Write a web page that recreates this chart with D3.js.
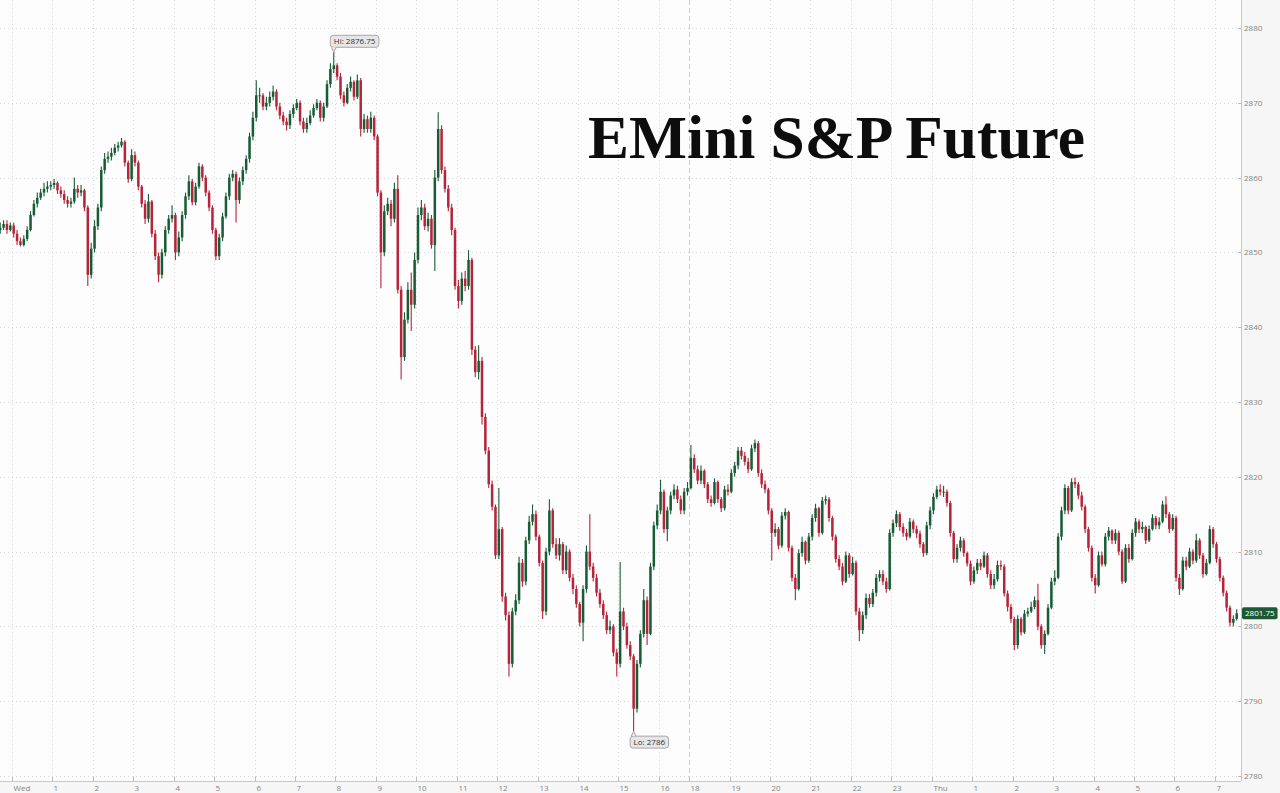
<!doctype html>
<html lang="en">
<head>
	<meta charset="UTF-8">
	<title>EMini S&amp;P Future</title>
	<script src="https://d3js.org/d3.v7.min.js"></script>
	<style>
		body { margin: 0; padding: 0; background: #f6f6f6; }
		svg { display: block; }
		.lbl { font-family: "Open Sans", Roboto, sans-serif; font-size: 8px; fill: #858585; }
		.grid { stroke: #d8d8d8; stroke-width: 1; stroke-dasharray: 1,3; }
	</style>
</head>
<body>
<svg id="chart"></svg>
<script>
// 5-minute bars, Tue 23:40 -> Thu 07:30 (ET)
const firstOpen = 2853.0;
const closes = [
	2853.3,2853.8,2853.0,2853.6,2852.5,2851.5,2851.0,2851.8,2853.0,2855.0,
	2856.5,2857.3,2858.0,2858.5,2858.8,2859.0,2859.3,2858.3,2857.8,2857.0,
	2856.5,2856.8,2858.5,2858.0,2858.3,2856.0,2847.0,2850.5,2853.5,2856.0,
	2861.0,2862.5,2862.8,2863.3,2864.0,2864.3,2864.8,2862.0,2859.8,2863.0,
	2862.0,2858.8,2856.5,2854.5,2856.8,2852.5,2849.5,2847.0,2850.0,2853.0,
	2854.5,2855.0,2850.0,2852.0,2855.0,2857.5,2859.5,2856.7,2858.8,2861.5,
	2860.0,2858.0,2856.0,2853.0,2849.5,2852.0,2854.8,2857.5,2860.0,2860.5,
	2857.0,2859.5,2861.0,2862.5,2865.5,2868.0,2871.0,2871.0,2869.5,2870.0,
	2870.8,2871.5,2869.5,2868.3,2867.5,2867.0,2868.5,2869.3,2870.0,2867.5,
	2866.5,2867.3,2868.3,2869.3,2870.0,2868.0,2869.5,2872.5,2874.5,2875.0,
	2873.5,2871.0,2870.0,2872.0,2872.8,2870.8,2873.0,2866.5,2867.8,2866.5,
	2868.0,2865.5,2858.0,2850.0,2855.5,2856.5,2854.5,2858.5,2845.0,2836.0,
	2841.0,2845.0,2843.0,2849.0,2855.0,2856.0,2853.5,2854.5,2851.0,2860.0,
	2866.5,2861.0,2858.5,2856.0,2853.0,2845.5,2843.5,2846.5,2845.5,2849.0,
	2837.0,2834.0,2835.5,2828.0,2823.5,2819.0,2816.0,2809.5,2813.0,2804.0,
	2801.5,2795.0,2802.0,2803.5,2808.5,2806.0,2811.5,2814.0,2815.0,2812.0,
	2808.5,2802.0,2810.0,2815.5,2811.0,2809.5,2811.0,2807.5,2810.0,2806.5,
	2805.0,2803.0,2800.5,2805.0,2810.0,2808.0,2806.5,2804.5,2803.0,2801.5,
	2799.5,2800.0,2796.5,2795.0,2802.0,2800.0,2797.5,2796.0,2789.0,2795.0,
	2799.0,2803.5,2799.0,2808.0,2813.5,2815.5,2818.0,2813.0,2815.5,2817.5,
	2818.3,2817.0,2815.5,2818.0,2818.5,2822.5,2821.0,2819.5,2820.8,2819.0,
	2817.0,2816.5,2819.3,2817.0,2815.8,2818.3,2818.0,2820.5,2821.5,2823.5,
	2822.8,2822.0,2821.0,2823.8,2824.5,2820.5,2819.0,2818.3,2815.5,2812.5,
	2813.0,2810.8,2814.8,2815.3,2810.5,2806.5,2805.0,2809.8,2811.3,2808.8,
	2812.0,2814.5,2815.8,2812.5,2816.8,2817.0,2814.5,2812.0,2809.0,2808.0,
	2806.0,2809.5,2807.0,2808.5,2802.0,2799.5,2801.5,2803.8,2803.0,2804.5,
	2806.5,2807.0,2806.0,2805.0,2812.5,2813.8,2815.0,2813.3,2812.5,2812.0,
	2814.0,2813.0,2812.4,2811.0,2809.8,2813.5,2815.5,2817.3,2818.3,2818.0,
	2818.0,2816.5,2812.5,2809.0,2810.5,2811.5,2809.8,2808.4,2806.0,2807.5,
	2808.5,2808.0,2809.5,2807.0,2805.5,2806.3,2808.2,2808.0,2804.4,2802.6,
	2801.0,2797.5,2801.0,2799.2,2801.7,2802.0,2802.6,2803.5,2800.0,2797.5,
	2799.0,2802.5,2806.0,2806.5,2812.0,2815.5,2818.5,2815.5,2819.3,2819.0,
	2817.5,2816.0,2813.0,2810.5,2806.5,2805.5,2809.5,2808.3,2812.0,2812.8,
	2811.5,2812.5,2810.0,2806.0,2810.5,2809.0,2812.5,2814.0,2813.0,2813.3,
	2811.5,2813.0,2814.5,2813.5,2814.0,2816.3,2815.0,2813.0,2814.5,2806.5,
	2805.0,2808.8,2808.0,2810.0,2808.8,2811.5,2809.5,2807.0,2808.5,2813.0,
	2811.0,2809.0,2806.5,2804.5,2802.5,2800.5,2801.0,2801.75
];
const highs = [
	2854.0,2854.3,2854.3,2854.0,2854.0,2853.0,2852.0,2852.3,2853.5,2855.5,
	2857.0,2858.0,2858.5,2859.3,2859.5,2859.5,2859.8,2859.5,2858.8,2858.3,
	2857.5,2857.3,2860.0,2859.0,2859.0,2858.5,2856.3,2851.3,2854.3,2856.5,
	2861.5,2863.3,2863.5,2864.0,2864.5,2864.8,2865.3,2865.0,2862.3,2863.8,
	2863.5,2862.3,2859.0,2857.0,2857.8,2857.0,2853.0,2850.0,2850.5,2853.5,
	2855.0,2856.3,2855.3,2852.8,2855.5,2858.0,2860.3,2859.8,2859.3,2862.0,
	2861.8,2860.3,2858.3,2856.3,2853.3,2852.5,2855.3,2858.0,2860.5,2861.0,
	2860.8,2860.0,2861.5,2863.0,2866.0,2868.8,2873.0,2872.0,2871.3,2870.8,
	2871.5,2872.3,2871.8,2870.0,2868.8,2868.0,2869.0,2869.8,2870.5,2870.3,
	2868.0,2868.0,2869.0,2869.8,2870.5,2870.3,2870.0,2873.0,2875.3,2876.75,
	2875.3,2874.0,2871.5,2872.5,2873.5,2873.0,2873.8,2873.3,2868.5,2868.3,
	2868.8,2868.3,2865.8,2858.3,2856.3,2857.3,2857.0,2859.3,2860.3,2845.5,
	2842.0,2846.0,2847.3,2850.0,2856.0,2857.0,2856.5,2855.3,2855.0,2861.0,
	2868.75,2867.0,2861.5,2859.0,2856.5,2853.3,2846.3,2847.3,2847.5,2850.3,
	2849.3,2837.5,2837.6,2836.0,2828.5,2824.0,2819.5,2816.3,2818.5,2813.3,
	2804.5,2802.0,2802.5,2804.3,2809.3,2809.0,2812.0,2814.8,2816.3,2815.5,
	2812.3,2808.8,2810.5,2817.0,2815.8,2811.8,2811.8,2811.3,2810.8,2810.3,
	2807.0,2805.5,2803.3,2805.5,2810.8,2815.0,2808.5,2807.0,2805.0,2803.5,
	2802.0,2800.8,2800.3,2797.0,2808.6,2802.5,2800.5,2798.0,2796.3,2795.5,
	2799.5,2805.0,2804.0,2808.5,2814.0,2816.3,2819.6,2818.3,2816.0,2818.0,
	2819.0,2818.8,2817.5,2818.5,2819.3,2824.25,2823.0,2821.5,2821.5,2821.0,
	2819.3,2817.5,2819.8,2819.5,2817.3,2818.8,2819.0,2821.0,2822.0,2824.0,
	2824.0,2823.3,2822.5,2824.3,2825.0,2824.8,2821.0,2819.5,2818.5,2815.8,
	2813.8,2813.3,2815.3,2815.8,2815.5,2810.8,2807.0,2810.3,2812.0,2811.5,
	2812.5,2815.0,2816.4,2816.0,2817.3,2817.5,2817.3,2814.8,2812.3,2809.5,
	2808.5,2810.0,2809.8,2809.3,2808.8,2802.5,2802.0,2804.4,2804.3,2805.0,
	2807.0,2807.5,2807.5,2806.5,2813.0,2814.3,2815.5,2815.3,2813.8,2813.0,
	2814.5,2814.3,2813.5,2812.8,2811.3,2814.0,2816.0,2817.8,2818.8,2819.0,
	2818.8,2818.3,2816.8,2812.8,2811.0,2812.0,2811.8,2810.0,2808.8,2808.0,
	2809.0,2809.0,2810.0,2809.8,2807.5,2807.0,2808.8,2808.8,2808.3,2804.8,
	2803.0,2801.3,2801.5,2801.3,2802.2,2802.5,2803.3,2804.0,2805.7,2800.3,
	2799.5,2803.0,2806.5,2807.5,2812.5,2816.0,2819.0,2818.8,2819.8,2819.9,
	2819.3,2818.0,2816.3,2813.3,2810.8,2807.0,2810.0,2810.0,2812.5,2813.3,
	2813.0,2813.0,2812.8,2810.3,2811.0,2811.0,2813.0,2814.5,2814.3,2814.0,
	2813.5,2813.5,2815.0,2814.8,2814.6,2816.8,2817.4,2815.3,2815.0,2814.8,
	2807.0,2809.3,2809.3,2810.5,2810.3,2812.4,2811.8,2809.8,2809.0,2813.5,
	2813.3,2811.3,2809.3,2806.8,2804.8,2802.8,2801.5,2802.3
];
const lows = [
	2852.5,2853.0,2852.5,2852.8,2852.0,2851.0,2850.8,2850.8,2851.5,2852.8,
	2854.8,2856.0,2857.0,2857.5,2858.0,2858.3,2858.5,2857.8,2857.3,2856.5,
	2856.0,2856.0,2856.5,2857.3,2857.5,2855.5,2845.5,2846.5,2850.0,2853.0,
	2855.5,2860.5,2862.0,2862.3,2863.0,2863.5,2864.0,2861.5,2859.3,2859.5,
	2861.5,2858.3,2856.0,2853.8,2854.0,2852.0,2849.0,2846.0,2846.5,2849.5,
	2852.5,2854.0,2849.0,2849.5,2851.5,2854.5,2857.0,2856.3,2856.3,2858.5,
	2859.5,2857.5,2855.5,2852.5,2849.0,2849.0,2851.5,2854.5,2857.0,2859.5,
	2854.0,2856.5,2859.0,2860.5,2862.0,2865.0,2867.5,2870.0,2869.0,2869.0,
	2869.5,2870.3,2869.0,2867.8,2867.0,2866.3,2866.5,2868.0,2869.0,2867.0,
	2866.0,2866.0,2867.0,2868.0,2869.0,2867.5,2867.5,2869.3,2872.0,2874.0,
	2873.0,2870.5,2869.5,2869.8,2871.5,2870.3,2870.5,2865.5,2866.0,2866.0,
	2866.0,2865.0,2857.5,2845.2,2849.5,2855.0,2853.5,2854.0,2844.5,2833.0,
	2835.5,2840.5,2839.5,2842.5,2848.5,2854.3,2853.0,2852.8,2850.5,2847.5,
	2859.5,2860.5,2858.0,2855.5,2852.3,2845.0,2842.5,2843.0,2844.8,2845.0,
	2836.3,2833.3,2833.0,2827.0,2823.0,2818.5,2815.5,2809.0,2809.0,2803.3,
	2800.8,2793.3,2794.5,2801.5,2803.0,2805.3,2805.5,2811.0,2813.5,2811.5,
	2808.0,2801.0,2801.5,2809.5,2810.5,2809.0,2808.8,2807.0,2807.0,2806.0,
	2804.3,2802.5,2800.0,2798.0,2804.5,2807.5,2806.0,2804.0,2802.5,2801.0,
	2799.0,2799.0,2796.0,2793.3,2794.5,2799.5,2797.0,2795.5,2786.0,2788.5,
	2794.5,2798.5,2797.5,2798.8,2807.5,2813.0,2815.0,2812.5,2811.4,2815.0,
	2817.0,2816.5,2815.0,2815.0,2817.5,2818.3,2820.5,2819.0,2819.0,2818.5,
	2816.5,2816.0,2816.3,2816.5,2815.3,2815.5,2817.5,2817.8,2820.0,2821.0,
	2822.3,2821.5,2820.5,2820.8,2823.3,2820.0,2818.5,2817.8,2815.0,2808.8,
	2812.0,2810.3,2810.5,2814.3,2810.0,2806.0,2803.5,2804.8,2809.3,2808.3,
	2808.5,2811.5,2814.0,2812.0,2812.3,2816.3,2814.0,2811.5,2808.5,2807.5,
	2805.5,2805.8,2806.5,2806.8,2801.5,2798.0,2799.0,2801.0,2802.5,2802.6,
	2804.0,2806.0,2805.5,2804.5,2804.8,2812.0,2813.3,2812.8,2812.0,2811.5,
	2811.8,2812.5,2811.8,2810.5,2809.3,2809.5,2813.0,2815.0,2817.0,2817.5,
	2817.3,2816.0,2812.0,2808.5,2808.5,2810.0,2809.3,2808.0,2805.5,2805.7,
	2807.0,2807.5,2807.8,2806.5,2805.0,2805.0,2806.0,2807.5,2804.0,2802.0,
	2800.5,2796.8,2797.0,2798.8,2799.0,2801.3,2801.8,2802.3,2799.5,2797.0,
	2796.3,2798.8,2802.3,2805.5,2806.3,2811.5,2815.0,2815.0,2815.3,2818.5,
	2817.0,2815.5,2812.5,2810.0,2806.0,2804.4,2805.3,2808.0,2808.0,2811.5,
	2811.0,2811.0,2809.5,2805.7,2805.8,2808.5,2808.8,2812.0,2812.5,2812.5,
	2811.0,2811.3,2812.8,2813.0,2813.0,2813.8,2814.5,2812.5,2812.8,2806.0,
	2804.2,2804.8,2807.5,2807.8,2808.3,2808.5,2809.0,2806.5,2806.8,2808.3,
	2810.5,2808.5,2806.0,2804.0,2802.0,2800.0,2800.0,2800.8
];

// x axis: hours since Wed 00:00 and their labels
const tickHours = [0,1,2,3,4,5,6,7,8,9,10,11,12,13,14,15,16,18,19,20,21,22,23,24,25,26,27,28,29,30,31];
const tickLabels = ['Wed','1','2','3','4','5','6','7','8','9','10','11','12','13','14','15','16','18','19','20','21','22','23','Thu','1','2','3','4','5','6','7'];
// y axis
const priceTicks = [2780,2790,2800,2810,2820,2830,2840,2850,2860,2870,2880];

const width = 1280;
const height = 793;
const plotRight = 1241;
const plotBottom = 781;

// trading time: drop the 16:15-16:30 halt and the 17:00-18:00 close
function tradeMin(clock) {
	if (clock <= 975) return clock;
	if (clock <= 990) return 975;
	if (clock <= 1020) return clock - 15;
	if (clock <= 1080) return 1005;
	return clock - 75;
}

// bar start times (clock minutes since Wed 00:00)
const barClock = d3.range(-20, 975, 5)
	.concat(d3.range(990, 1020, 5))
	.concat(d3.range(1080, 1895, 5));

const bars = closes.map((c, i) => ({
	t: tradeMin(barClock[i]) + 2.5,
	o: i ? closes[i - 1] : firstOpen,
	c: c,
	h: highs[i],
	l: lows[i]
}));

const x = d3.scaleLinear().domain([0, 1785]).range([12, 1214.8]);
const y = d3.scaleLinear().domain([2780, 2880]).range([776, 28]);

const svg = d3.select('#chart')
	.attr('width', width)
	.attr('height', height);

// backgrounds
svg.append('rect').attr('width', width).attr('height', height).attr('fill', '#f6f6f6');
svg.append('rect').attr('width', plotRight).attr('height', plotBottom).attr('fill', '#fdfdfd');

// grid
const grid = svg.append('g');
grid.selectAll('.hg')
	.data(priceTicks)
	.enter().append('line')
	.attr('class', 'grid')
	.attr('x1', 0).attr('x2', plotRight)
	.attr('y1', d => Math.round(y(d)) + 0.5)
	.attr('y2', d => Math.round(y(d)) + 0.5);

grid.selectAll('.vg')
	.data(tickHours)
	.enter().append('line')
	.attr('class', 'grid')
	.attr('y1', 0).attr('y2', plotBottom)
	.attr('x1', d => Math.round(x(tradeMin(d * 60))) + 0.5)
	.attr('x2', d => Math.round(x(tradeMin(d * 60))) + 0.5);

// session break (18:00)
const sx = Math.round(x(tradeMin(18 * 60))) + 0.5;
svg.append('line')
	.attr('x1', sx).attr('x2', sx)
	.attr('y1', 0).attr('y2', plotBottom)
	.attr('stroke', '#cfcfcf')
	.attr('stroke-dasharray', '5,3');

// title
svg.append('text')
	.attr('x', 588)
	.attr('y', 158)
	.attr('font-family', '"Liberation Serif", "DejaVu Serif", serif')
	.attr('font-weight', 'bold')
	.attr('font-size', 61)
	.attr('textLength', 497)
	.attr('lengthAdjust', 'spacingAndGlyphs')
	.attr('fill', '#0d0d0d')
	.text('EMini S&P Future');

// candles
const upCol = '#175c35';
const downCol = '#b4243b';
const candle = svg.append('g').selectAll('g')
	.data(bars)
	.enter().append('g');

candle.append('line')
	.attr('x1', d => x(d.t)).attr('x2', d => x(d.t))
	.attr('y1', d => y(d.h)).attr('y2', d => y(d.l))
	.attr('stroke', d => d.c >= d.o ? upCol : downCol)
	.attr('stroke-width', 1.1);

candle.append('rect')
	.attr('x', d => x(d.t) - 1.25)
	.attr('width', 2.5)
	.attr('y', d => y(Math.max(d.o, d.c)))
	.attr('height', d => Math.max(1, Math.abs(y(d.o) - y(d.c))))
	.attr('fill', d => d.c >= d.o ? upCol : downCol);

// axes
svg.append('line')
	.attr('x1', plotRight + 0.5).attr('x2', plotRight + 0.5)
	.attr('y1', 0).attr('y2', plotBottom)
	.attr('stroke', '#c8c8c8');
svg.append('line')
	.attr('x1', 0).attr('x2', plotRight)
	.attr('y1', plotBottom + 0.5).attr('y2', plotBottom + 0.5)
	.attr('stroke', '#c8c8c8');

const yAx = svg.append('g').selectAll('g')
	.data(priceTicks)
	.enter().append('g')
	.attr('transform', d => 'translate(' + plotRight + ',' + (Math.round(y(d)) + 0.5) + ')');
yAx.append('line').attr('x1', -3).attr('x2', 0).attr('stroke', '#bbb');
yAx.append('text')
	.attr('class', 'lbl')
	.attr('x', 3)
	.attr('dy', '0.35em')
	.text(d => d);

const xAx = svg.append('g').selectAll('g')
	.data(tickHours)
	.enter().append('g')
	.attr('transform', d => 'translate(' + (Math.round(x(tradeMin(d * 60))) + 0.5) + ',' + plotBottom + ')');
xAx.append('line').attr('y1', -4).attr('y2', 0).attr('stroke', '#bbb');
xAx.append('text')
	.attr('class', 'lbl')
	.attr('x', 1)
	.attr('y', 10)
	.text((d, i) => tickLabels[i]);

// Hi / Lo callouts
function callout(bar, value, label, above) {
	const px = x(bar.t);
	const py = y(value);
	const g = svg.append('g');
	const txt = g.append('text')
		.attr('font-family', '"Open Sans", Roboto, sans-serif')
		.attr('font-size', 8)
		.attr('fill', '#333')
		.text(label);
	const w = txt.node().getComputedTextLength() + 7;
	const h = 12;
	const bx = px - 3.5;
	const by = above ? py - 5 - h : py + 5;
	g.insert('rect', 'text')
		.attr('x', bx).attr('y', by)
		.attr('width', w).attr('height', h)
		.attr('rx', 3)
		.attr('fill', '#e6e6e6')
		.attr('stroke', '#a8a8a8');
	const ey = above ? by + h : by;
	g.append('path')
		.attr('d', 'M' + (px - 2.5) + ',' + ey + 'L' + px + ',' + py + 'L' + (px + 2.5) + ',' + ey)
		.attr('fill', '#e6e6e6')
		.attr('stroke', '#a8a8a8');
	txt.attr('x', bx + 3.5).attr('y', by + 8.8);
}

const hiIdx = d3.maxIndex(highs);
const loIdx = d3.minIndex(lows);
callout(bars[hiIdx], highs[hiIdx], 'Hi: ' + highs[hiIdx], true);
callout(bars[loIdx], lows[loIdx], 'Lo: ' + lows[loIdx], false);

// last price tag
const last = closes[closes.length - 1];
const tag = svg.append('g').attr('transform', 'translate(' + (plotRight + 1) + ',' + y(last) + ')');
const tagText = tag.append('text')
	.attr('font-family', '"Open Sans", Roboto, sans-serif')
	.attr('font-size', 8)
	.attr('fill', '#fff')
	.attr('x', 3)
	.attr('dy', '0.35em')
	.text(last.toFixed(2));
tag.insert('rect', 'text')
	.attr('x', 0).attr('y', -6)
	.attr('width', tagText.node().getComputedTextLength() + 6)
	.attr('height', 12)
	.attr('rx', 2)
	.attr('fill', '#1d5a33');
</script>
</body>
</html>
